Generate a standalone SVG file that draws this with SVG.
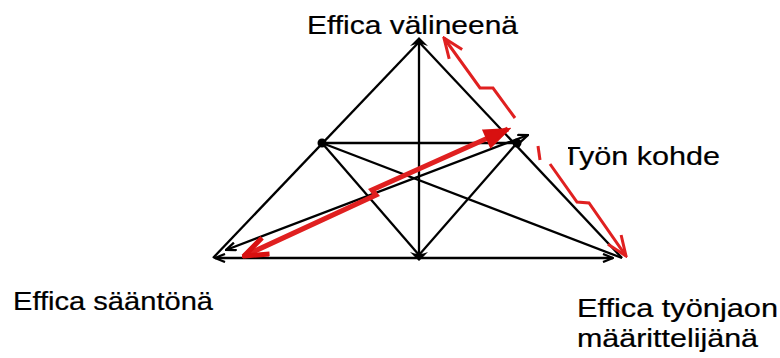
<svg xmlns="http://www.w3.org/2000/svg" width="780" height="358" viewBox="0 0 780 358">
<style>
.lbl{font-family:"Liberation Sans",Arial,sans-serif;font-size:25px;fill:#000;stroke:#000;stroke-width:0.2}
.ln{stroke:#000;stroke-width:2.3;fill:none}
.red{stroke:#e02020;fill:none;stroke-linejoin:miter}
</style>
<defs>
<marker id="ah" viewBox="0 0 12 10" refX="11" refY="5" markerWidth="12" markerHeight="10" markerUnits="userSpaceOnUse" orient="auto-start-reverse">
<path d="M1,1 L11,5 L1,9" fill="none" stroke="#000" stroke-width="2.3"/>
</marker>
<marker id="rh" viewBox="0 0 24 20" refX="22" refY="10" markerWidth="24" markerHeight="20" markerUnits="userSpaceOnUse" orient="auto-start-reverse">
<path d="M2,2 L22,10 L2,18" fill="none" stroke="#e02020" stroke-width="3"/>
</marker>
<marker id="rhf" viewBox="0 0 28 22" refX="26" refY="11" markerWidth="28" markerHeight="22" markerUnits="userSpaceOnUse" orient="auto">
<path d="M2,2 L26,11 L2,20 Z" fill="#d81010" stroke="#d81010" stroke-width="2"/>
</marker>
<marker id="rho" viewBox="0 0 28 22" refX="26" refY="11" markerWidth="28" markerHeight="22" markerUnits="userSpaceOnUse" orient="auto-start-reverse">
<path d="M2,2 L26,11 L2,20" fill="none" stroke="#d81010" stroke-width="5"/>
</marker>
<clipPath id="tclip"><rect x="568" y="130" width="212" height="50"/></clipPath>
</defs>

<g id="connectors">
<line class="ln" x1="419" y1="42" x2="213" y2="258"/>
<line class="ln" x1="419" y1="42" x2="622" y2="258"/>
<line class="ln" x1="419" y1="42" x2="419" y2="255"/>
<line class="ln" x1="322" y1="143" x2="517" y2="143"/>
<line class="ln" x1="322" y1="143" x2="419" y2="255"/>
<line class="ln" x1="517" y1="143" x2="419" y2="255"/>
<line class="ln" x1="322" y1="143" x2="622" y2="258"/>
<line class="ln" x1="215" y1="258" x2="613" y2="258" marker-start="url(#ah)" marker-end="url(#ah)"/>
<line class="ln" x1="226" y1="250" x2="528" y2="135" marker-start="url(#ah)" marker-end="url(#ah)"/>
<polyline class="red" stroke-width="5" points="244,256 376,195 372,190 508,129" marker-start="url(#rho)"/>
<line class="red" stroke-width="1" x1="500" y1="133" x2="509" y2="129" marker-end="url(#rhf)"/>
<polyline class="red" stroke-width="3" points="515,118 493,88 480,88 444,38" marker-end="url(#rh)"/>
<line class="red" stroke-width="3" x1="538" y1="146" x2="540" y2="160"/>
<polyline class="red" stroke-width="3" points="550,164 577,202 589,203 626,256" marker-end="url(#rh)"/>
</g>

<g id="node-top">
<path d="M410,46 L419,37 L428,46 Q419,42 410,46 Z" fill="#000"/>
<text class="lbl" x="307" y="34" textLength="211" lengthAdjust="spacingAndGlyphs">Effica välineenä</text>
</g>
<g id="node-left-mid"><circle cx="322" cy="143" r="4.5" fill="#000"/></g>
<g id="node-right-mid">
<circle cx="517" cy="143" r="4.5" fill="#000"/>
<text class="lbl" x="562" y="165" textLength="158" lengthAdjust="spacingAndGlyphs" clip-path="url(#tclip)">Työn kohde</text>
</g>
<g id="node-bottom-mid"><path d="M410,252 L419,261 L428,252 Q419,256 410,252 Z" fill="#000"/></g>
<g id="node-bottom-left">
<text class="lbl" x="13" y="310" textLength="200" lengthAdjust="spacingAndGlyphs">Effica sääntönä</text>
</g>
<g id="node-bottom-right">
<text class="lbl" x="577" y="317" textLength="201" lengthAdjust="spacingAndGlyphs">Effica työnjaon</text>
<text class="lbl" x="577" y="347" textLength="181" lengthAdjust="spacingAndGlyphs">määrittelijänä</text>
</g>
</svg>
